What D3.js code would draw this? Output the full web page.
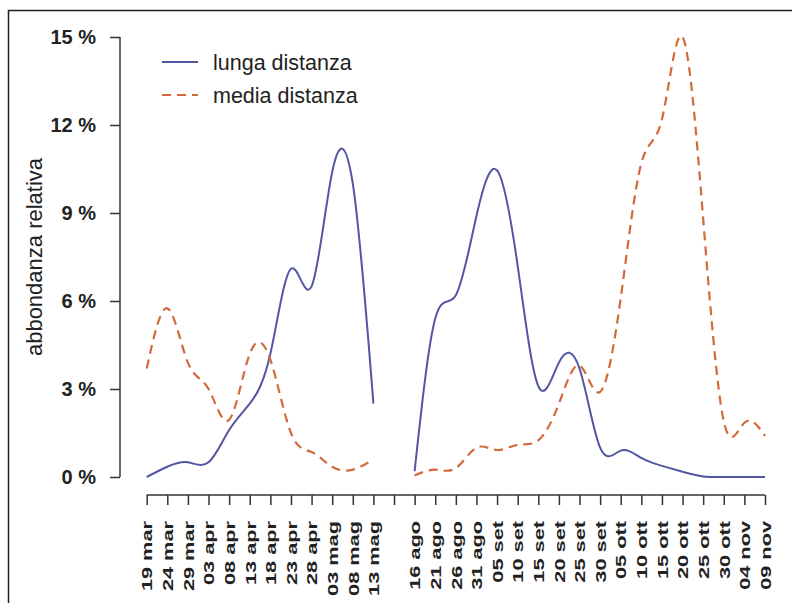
<!DOCTYPE html>
<html>
<head>
<meta charset="utf-8">
<script src="https://cdn.jsdelivr.net/npm/d3@7"></script>
<style>
  html, body { margin: 0; padding: 0; background: #fff; }
  svg { display: block; }
  text { font-family: "Liberation Sans", Arial, sans-serif; fill: #222; }
</style>
</head>
<body>
<svg id="chart" width="792" height="603"></svg>
<script>
// Sampling dates (5-day steps, two seasons separated by an empty slot)
const tickLabels = ["19 mar","24 mar","29 mar","03 apr","08 apr","13 apr","18 apr","23 apr","28 apr","03 mag","08 mag","13 mag","",
  "16 ago","21 ago","26 ago","31 ago","05 set","10 set","15 set","20 set","25 set","30 set",
  "05 ott","10 ott","15 ott","20 ott","25 ott","30 ott","04 nov","09 nov"];

// Relative abundance (%) per sampling date; null = no sample
const lungaDistanza = [0.0, 0.35, 0.5, 0.5, 1.6, 2.5, 4.2, 7.1, 6.5, 10.4, 10.0, 2.5, null,
  0.2, 5.4, 6.2, 8.9, 10.45, 7.2, 3.1, 3.9, 3.7, 1.0, 0.9, 0.65, 0.38, 0.18, 0.02, 0.0, 0.0, 0.0];
const mediaDistanza = [3.7, 5.75, 3.9, 3.0, 1.95, 4.2, 4.0, 1.5, 0.85, 0.35, 0.25, 0.6, null,
  0.05, 0.25, 0.3, 1.0, 0.92, 1.1, 1.25, 2.5, 3.8, 2.9, 6.1, 10.7, 12.2, 15.0, 8.8, 1.9, 1.85, 1.4];

const yTicks = [0, 3, 6, 9, 12, 15];
const seriesNames = ["lunga distanza", "media distanza"];
const seriesColors = ["#5256a3", "#d4693c"];

const svg = d3.select("#chart");

// outer frame
svg.append("rect")
  .attr("x", 8.5).attr("y", 10.5)
  .attr("width", 800).attr("height", 600)
  .attr("fill", "none").attr("stroke", "#222").attr("stroke-width", 1.5);

const x = d3.scaleLinear().domain([0, tickLabels.length - 1]).range([146.7, 765]);
const y = d3.scaleLinear().domain([0, 15]).range([477, 37]);

// y axis
const yAxis = svg.append("g").attr("transform", "translate(120,0)")
  .call(d3.axisLeft(y).tickValues(yTicks).tickSize(10).tickPadding(14)
    .tickFormat(d => d + " %"));
yAxis.select(".domain").attr("stroke", "#333").attr("stroke-width", 1.5).attr("d", `M0,${y(0)}V${y(15)}`);
yAxis.selectAll(".tick line").attr("stroke", "#333").attr("stroke-width", 1.5);
yAxis.selectAll(".tick text")
  .attr("font-size", 20).attr("font-weight", "bold")
  .attr("font-family", "Liberation Sans, Arial, sans-serif").attr("fill", "#333");

// x axis
const xAxis = svg.append("g").attr("transform", "translate(0,495)")
  .call(d3.axisBottom(x).tickValues(d3.range(tickLabels.length)).tickSize(10)
    .tickFormat(i => tickLabels[i]));
xAxis.select(".domain").attr("stroke", "#333").attr("stroke-width", 1.5)
  .attr("d", `M${x(0)},0H${x(tickLabels.length - 1)}`);
xAxis.selectAll(".tick line").attr("stroke", "#333").attr("stroke-width", 1.5);
xAxis.selectAll(".tick text")
  .attr("font-size", 15).attr("font-weight", "bold")
  .attr("font-family", "Liberation Sans, Arial, sans-serif").attr("fill", "#333")
  .attr("text-anchor", "end")
  .attr("dy", "0.35em")
  .attr("transform", "translate(0,26) rotate(-90) scale(1.45,1)")
  .attr("x", 0).attr("y", 0);

// y axis title
svg.append("text")
  .attr("transform", "translate(42,257) rotate(-90)")
  .attr("text-anchor", "middle")
  .attr("font-size", 22)
  .text("abbondanza relativa");

// series lines
const line = d3.line()
  .defined(d => d != null)
  .x((d, i) => x(i))
  .y(d => y(d))
  .curve(d3.curveNatural);

svg.append("path")
  .datum(lungaDistanza)
  .attr("fill", "none").attr("stroke", seriesColors[0]).attr("stroke-width", 2)
  .attr("d", line);

svg.append("path")
  .datum(mediaDistanza)
  .attr("fill", "none").attr("stroke", seriesColors[1]).attr("stroke-width", 2.2)
  .attr("stroke-dasharray", "9,6")
  .attr("d", line);

// legend
const legend = svg.append("g");
seriesNames.forEach((name, k) => {
  const ly = 62 + k * 33;
  legend.append("line")
    .attr("x1", 162).attr("x2", 198).attr("y1", ly).attr("y2", ly)
    .attr("stroke", seriesColors[k]).attr("stroke-width", 2)
    .attr("stroke-dasharray", k === 1 ? "9,6" : null);
  legend.append("text")
    .attr("x", 213).attr("y", ly).attr("dy", "0.35em")
    .attr("font-size", 21.5)
    .text(name);
});
</script>
</body>
</html>
